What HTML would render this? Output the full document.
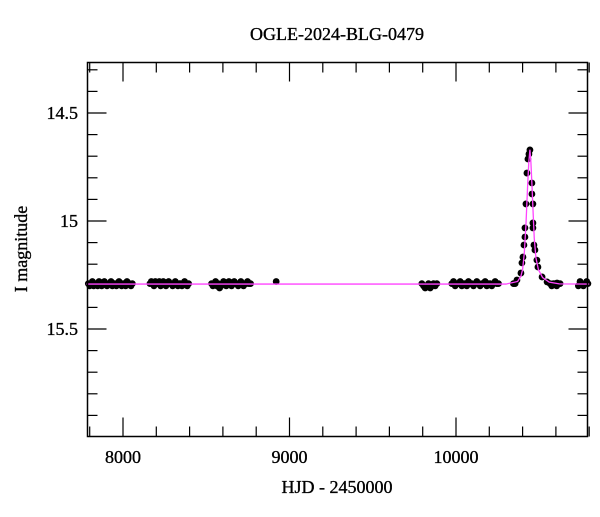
<!DOCTYPE html>
<html><head><meta charset="utf-8"><style>
body{margin:0;background:#fff}
svg text{font-family:"Liberation Serif",serif;fill:#000;stroke:#000;stroke-width:0.35}
</style></head><body>
<svg id="chart" width="600" height="512" xmlns="http://www.w3.org/2000/svg">
<rect width="600" height="512" fill="#fff"/>
<text x="337" y="40" font-size="18" text-anchor="middle">OGLE-2024-BLG-0479</text>
<text x="337" y="493" font-size="18" text-anchor="middle">HJD - 2450000</text>
<text transform="translate(27,249) rotate(-90)" font-size="18" text-anchor="middle">I magnitude</text>
<g id="ticks"></g>
<g id="points"></g>
<g id="model"></g>
<rect x="87.5" y="62.5" width="500" height="374" fill="none" stroke="#000" stroke-width="1.5"/>
</svg>
<script>
const xTickLabels=[8000,9000,10000];
const yTickLabels=[14.5,15,15.5];
const baseT=[7792,7800,7808,7816,7824,7832,7840,7848,7856,7864,7872,7880,7888,7896,7904,7912,7920,7928,7936,7944,7952,7960,7968,7976,7984,7992,8000,8008,8016,8024,8032,8040,8048,8056,
8162,8170,8178,8186,8194,8202,8210,8218,8226,8234,8242,8250,8258,8266,8274,8282,8290,8298,8306,8314,8322,8330,8338,8346,8354,8362,8370,8378,8386,8394,
8532,8540,8548,8556,8564,8572,8580,8588,8596,8604,8612,8620,8628,8636,8644,8652,8660,8668,8676,8684,8692,8700,8708,8716,8724,8732,8740,8748,8756,8766,
8920,9795,9805,9815,9825,9835,9845,9855,9865,9875,9885,
9975,9985,9995,10005,10015,10025,10035,10045,10055,10065,10075,10085,10095,10105,10115,10125,10135,10145,10155,10165,10175,10185,10195,10205,10215,10225,10235,10245,10255,
10345,10355,10565,10575,10585,10595,10605,10615,10625,10735,10745,10755,10765,10775,10785,10792];
const baseM=[15.29,15.30,15.29,15.28,15.30,15.29,15.29,15.30,15.28,15.29,15.30,15.29,15.28,15.29,15.30,15.29,15.29,15.28,15.30,15.29,15.29,15.30,15.29,15.28,15.29,15.30,15.29,15.29,15.30,15.28,15.29,15.29,15.30,15.29,
15.29,15.28,15.29,15.30,15.28,15.29,15.29,15.28,15.30,15.29,15.28,15.29,15.30,15.29,15.28,15.29,15.29,15.30,15.29,15.28,15.29,15.30,15.29,15.29,15.30,15.29,15.28,15.29,15.30,15.29,
15.29,15.30,15.29,15.28,15.30,15.29,15.31,15.30,15.29,15.28,15.29,15.30,15.29,15.28,15.29,15.30,15.29,15.28,15.29,15.29,15.30,15.29,15.28,15.29,15.30,15.29,15.29,15.28,15.29,15.29,
15.28,15.29,15.30,15.31,15.30,15.29,15.31,15.30,15.29,15.30,15.29,
15.29,15.28,15.30,15.29,15.29,15.28,15.30,15.29,15.29,15.30,15.28,15.29,15.29,15.30,15.29,15.28,15.29,15.30,15.29,15.29,15.28,15.30,15.29,15.29,15.30,15.29,15.28,15.29,15.29,
15.29,15.29,15.29,15.30,15.29,15.29,15.30,15.29,15.29,15.30,15.28,15.29,15.30,15.29,15.28,15.29,15.30];
const eventT=[10366,10390,10396,10402,10408,10414,10414,10420,10426,10432,10438,10444,10456,10456,10462,10462,10462,10468,10474,10486,10492,10517,10547,10607];
const eventM=[15.273,15.241,15.194,15.167,15.111,15.074,15.032,14.921,14.778,14.713,14.690,14.671,14.824,14.875,14.921,15.009,15.032,15.111,15.134,15.181,15.213,15.259,15.282,15.287];
const modelT=[7780,10300,10370,10390,10400,10410,10420,10430,10437,10444,10450,10456,10462,10470,10480,10495,10520,10560,10620,10800];
const modelM=[15.292,15.292,15.28,15.255,15.225,15.15,15.02,14.84,14.73,14.67,14.73,14.83,14.94,15.08,15.17,15.225,15.262,15.283,15.291,15.292];

const NS='http://www.w3.org/2000/svg';
const X=t=>456+(t-10000)*0.1665;
const Y=m=>113+(m-14.5)*216;
function mk(tag,attrs,parent){const e=document.createElementNS(NS,tag);for(const k in attrs)e.setAttribute(k,attrs[k]);parent.appendChild(e);return e;}
const tg=document.getElementById('ticks');
for(let t=7800;t<=10800;t+=200){
  const major=t%1000===0;const len=major?19:10;const x=X(t);
  const a=mk('line',{x1:x,x2:x,y1:436.5,y2:436.5-len,stroke:'#000','stroke-width':1.2},tg);
  
  
  const b=mk('line',{x1:x,x2:x,y1:62.5,y2:62.5+len,stroke:'#000','stroke-width':1.2},tg);
  
  
}
xTickLabels.forEach(v=>{const e=mk('text',{x:X(v),y:463,'font-size':18,'text-anchor':'middle'},tg);e.textContent=v;
  
  });
for(let i=3;i<=19;i++){
  const m=14+i*0.1;const major=i%5===0;const len=major?19:10;const y=Y(m);
  if(y<63||y>436)continue;
  const a=mk('line',{x1:87.5,x2:87.5+len,y1:y,y2:y,stroke:'#000','stroke-width':1.2},tg);
  
  
  const b=mk('line',{x1:587.5,x2:587.5-len,y1:y,y2:y,stroke:'#000','stroke-width':1.2},tg);
  
  
}
yTickLabels.forEach(v=>{const e=mk('text',{x:78,y:Y(v)+6,'font-size':18,'text-anchor':'end'},tg);e.textContent=v;
  
  });
const pg=document.getElementById('points');
function pts(T,M){T.forEach((t,i)=>{const c=mk('circle',{cx:X(t),cy:Y(M[i]),r:3.4,fill:'#000'},pg);
  
  });}
pts(baseT,baseM);pts(eventT,eventM);
const mg=document.getElementById('model');
const p=mk('polyline',{points:modelT.map((t,i)=>X(t)+','+Y(modelM[i])).join(' '),fill:'none',stroke:'#ff44ff','stroke-width':1.3},mg);


</script>
</body></html>
